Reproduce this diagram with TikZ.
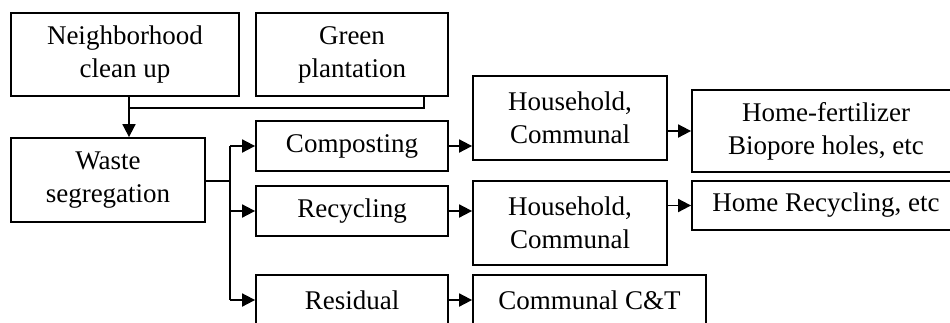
\documentclass[tikz,border=0pt]{standalone}
\usepackage{fontspec}
\setmainfont{Liberation Serif}
\usetikzlibrary{arrows.meta}
\tikzset{
  box/.style={draw, line width=1.8pt, inner sep=0pt, align=center, font=\fontsize{27}{33}\selectfont},
  conn/.style={line width=1.8pt},
  arr/.style={line width=1.8pt, -{Triangle[length=13pt,width=13pt]}}
}
\begin{document}
\begin{tikzpicture}[x=1pt,y=-1pt]
\useasboundingbox (0,0) rectangle (950,322);
\clip (0,0) rectangle (950,322);
\node[box, minimum width=228pt, minimum height=83pt] (nb) at (125,54.5) {Neighborhood\\clean up};
\node[box, minimum width=192pt, minimum height=83pt] (gp) at (352,54.5) {Green\\plantation};
\node[box, minimum width=194pt, minimum height=84pt] (ws) at (108,180) {Waste\\segregation};
\node[box, minimum width=192pt, minimum height=50pt] (comp) at (352,146) {Composting};
\node[box, minimum width=192pt, minimum height=50pt] (rec) at (352,211) {Recycling};
\node[box, minimum width=192pt, minimum height=50pt] (res) at (352,300) {Residual};
\node[box, minimum width=194pt, minimum height=84pt] (hh1) at (570,118) {Household,\\Communal};
\node[box, minimum width=194pt, minimum height=84pt] (hh2) at (570,223) {Household,\\Communal};
\node[box, minimum width=233pt, minimum height=50pt] (cct) at (589.5,300) {Communal C\&T};
\node[box, minimum width=268pt, minimum height=82pt] (hf) at (826,131) {Home-fertilizer\\Biopore holes, etc};
\node[box, minimum width=268pt, minimum height=49pt] (hr) at (826,205.5) {Home Recycling, etc};
\coordinate (j) at (129,108);
\coordinate (g) at (424,108);
\coordinate (b) at (230,181);
\draw[arr] (nb.south -| j) -- (ws.north -| j);
\draw[conn] (gp.south -| g) -- (g) -- (j);
\draw[conn] (ws.east |- b) -- (b);
\draw[conn] (b |- comp.west) -- (b |- res.west);
\draw[arr] (b |- comp.west) -- (comp.west);
\draw[arr] (b |- rec.west) -- (rec.west);
\draw[arr] (b |- res.west) -- (res.west);
\draw[arr] (comp.east) -- (comp.east -| hh1.west);
\draw[arr] (rec.east) -- (rec.east -| hh2.west);
\draw[arr] (res.east) -- (res.east -| cct.west);
\draw[arr] (hh1.east |- hf.west) -- (hf.west);
\draw[arr] (hh2.east |- hr.west) -- (hr.west);
\end{tikzpicture}
\end{document}
